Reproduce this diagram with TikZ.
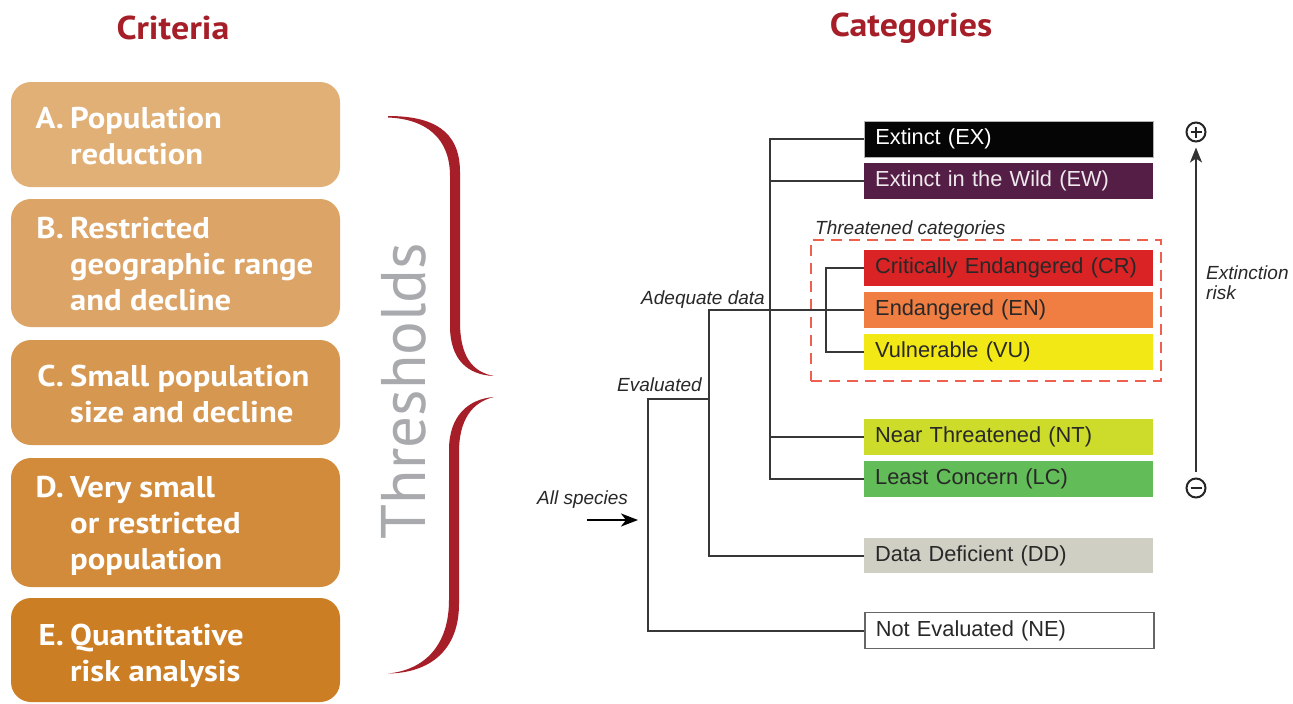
\documentclass[tikz,border=0pt]{standalone}
\usepackage{fontspec}
\setmainfont{PT Sans}[FakeStretch=1.09]
\newfontfamily\thfont{PT Sans}
\newfontfamily\arialf{Liberation Sans}
\usetikzlibrary{arrows.meta}
\definecolor{titlered}{RGB}{165,30,40}
\definecolor{cA}{RGB}{224,176,119}
\definecolor{cB}{RGB}{220,164,103}
\definecolor{cC}{RGB}{214,151,81}
\definecolor{cD}{RGB}{209,139,59}
\definecolor{cE}{RGB}{204,126,37}
\definecolor{thgray}{RGB}{168,170,173}
\definecolor{linegray}{RGB}{55,55,55}
\definecolor{labgray}{RGB}{40,40,40}
\definecolor{exblack}{RGB}{5,5,5}
\definecolor{ewpurple}{RGB}{84,30,70}
\definecolor{crred}{RGB}{217,35,36}
\definecolor{enorange}{RGB}{240,126,66}
\definecolor{vuyellow}{RGB}{242,232,22}
\definecolor{ntgreen}{RGB}{205,220,42}
\definecolor{lcgreen}{RGB}{98,188,88}
\definecolor{ddgray}{RGB}{207,207,196}
\definecolor{dashred}{RGB}{240,96,78}
\tikzset{
  title/.style={text=titlered, font=\fontsize{33}{38}\selectfont\bfseries},
  crit/.style={rounded corners=20pt, minimum width=329pt, inner sep=0pt},
  lett/.style={anchor=base east, text=white, inner sep=0pt, font=\fontsize{30}{36}\selectfont\bfseries},
  ctext/.style={anchor=base west, text=white, inner sep=0pt, font=\fontsize{30}{36}\selectfont\bfseries},
  cat/.style={anchor=west, minimum width=289pt, minimum height=36pt, text width=267pt,
    inner xsep=11pt, inner ysep=0pt, align=left, text=labgray, font=\arialf\fontsize{21.8}{25}\selectfont},
  conn/.style={draw=linegray, line width=2pt},
  lab/.style={anchor=base west, inner sep=0pt, text=labgray, font=\arialf\itshape\fontsize{19}{21}\selectfont},
  sym/.style={circle, draw=black!85, line width=2pt, minimum size=19pt, inner sep=0pt}
}
\begin{document}
\begin{tikzpicture}[x=1pt,y=-1pt]
\useasboundingbox[fill=white] (0,0) rectangle (1293,704);

% titles
\node[title] (crit) at (173,28) {Criteria};
\node[title] (cats) at (911,28) {Categories};

% criteria boxes
\node[crit, fill=cA, minimum height=105pt] (bA) at (175.5,134.5) {};
\node[crit, fill=cB, minimum height=128pt] (bB) at (175.5,263) {};
\node[crit, fill=cC, minimum height=105pt] (bC) at (175.5,392.5) {};
\node[crit, fill=cD, minimum height=129pt] (bD) at (175.5,522.5) {};
\node[crit, fill=cE, minimum height=104pt] (bE) at (175.5,650) {};

\node[lett] (lA) at (64,128) {A.};
\node[ctext] (tA) at (70,128) {\begin{tabular}[t]{@{}l@{}}Population\\reduction\end{tabular}};
\node[lett] (lB) at (64,238) {B.};
\node[ctext] (tB) at (70,238) {\begin{tabular}[t]{@{}l@{}}Restricted\\geographic range\\and decline\end{tabular}};
\node[lett] (lC) at (64,386) {C.};
\node[ctext] (tC) at (70,386) {\begin{tabular}[t]{@{}l@{}}Small population\\size and decline\end{tabular}};
\node[lett] (lD) at (64,497) {D.};
\node[ctext] (tD) at (70,497) {\begin{tabular}[t]{@{}l@{}}Very small\\or restricted\\population\end{tabular}};
\node[lett] (lE) at (64,645) {E.};
\node[ctext] (tE) at (70,645) {\begin{tabular}[t]{@{}l@{}}Quantitative\\risk analysis\end{tabular}};

% Thresholds
\node[rotate=90, text=thgray, inner sep=0pt, font=\thfont\fontsize{63}{70}\selectfont] (thr) at (404,391) {Thresholds};

% brace
\fill[titlered] (388,116) .. controls (432,116) and (460,130) .. (460,172) -- (460,322)
  .. controls (460,356) and (472,372) .. (494,376)
  .. controls (468,375) and (450,360) .. (450,326) -- (450,176)
  .. controls (450,138) and (426,119) .. (388,117.5) -- cycle;
\fill[titlered] (494,397) .. controls (468,399) and (449,416) .. (449,450) -- (449,600)
  .. controls (449,646) and (424,670) .. (388,673.5)
  .. controls (430,673) and (459,650) .. (459,604) -- (459,452)
  .. controls (459,420) and (472,402) .. (494,397) -- cycle;

% category boxes
\node[cat, fill=exblack, text=white, draw=gray!60, line width=0.6pt] (ex) at (864,139) {Extinct (EX)};
\node[cat, fill=ewpurple, text=white!90!ewpurple] (ew) at (864,180.5) {Extinct in the Wild (EW)};
\node[cat, fill=crred] (cr) at (864,267.5) {Critically Endangered (CR)};
\node[cat, fill=enorange] (en) at (864,310) {Endangered (EN)};
\node[cat, fill=vuyellow] (vu) at (864,351.5) {Vulnerable (VU)};
\node[cat, fill=ntgreen] (nt) at (864,436.5) {Near Threatened (NT)};
\node[cat, fill=lcgreen] (lc) at (864,478.5) {Least Concern (LC)};
\node[cat, fill=ddgray, minimum height=35pt] (dd) at (864,555.5) {Data Deficient (DD)};
\node[cat, fill=white, draw=gray!80!black, line width=1.5pt] (ne) at (864,630.5) {Not Evaluated (NE)};

% threatened dashed frame
\node[draw=dashred, line width=2pt, dash pattern=on 11pt off 7pt, minimum width=350pt, minimum height=141pt, inner sep=0pt] (thframe) at (986,310.5) {};
\node[lab] (thlab) at (815,234) {Threatened categories};

% tree connectors
\coordinate (trA) at (770,310);
\coordinate (trT) at (826,310);
\coordinate (adq) at (709,310);
\coordinate (evr) at (709,399);
\coordinate (evl) at (648,399);
\draw[conn] (ex.west) -| (trA) |- (lc.west);
\draw[conn] (ew.west) -| (trA);
\draw[conn] (nt.west) -| (trA);
\draw[conn] (cr.west) -| (trT) |- (vu.west);
\draw[conn] (en.west) -- (adq) |- (dd.west);
\draw[conn] (evr) -- (evl) |- (ne.west);

% labels
\node[lab] (adl) at (641,304) {Adequate data};
\node[lab] (evlab) at (617,391) {Evaluated};
\node[lab] (alll) at (537,504) {All species};
\coordinate (as1) at (587,520);
\coordinate (as2) at (638,520);
\draw[conn, draw=black, -{Stealth[length=17pt,width=13pt,inset=5pt]}] (as1) -- (as2);

% extinction risk axis
\node[sym] (plus) at (1196,132) {};
\node[sym] (minus) at (1196,488) {};
\draw[line width=2pt, black!85] ([xshift=-5.5pt]plus.center) -- ([xshift=5.5pt]plus.center);
\draw[line width=2pt, black!85] ([yshift=-5.5pt]plus.center) -- ([yshift=5.5pt]plus.center);
\draw[line width=2pt, black!85] ([xshift=-5.5pt]minus.center) -- ([xshift=5.5pt]minus.center);
\draw[conn, draw=black!80, -{Stealth[length=15pt,width=12pt,inset=4pt]}, shorten <=6pt, shorten >=5pt] (minus) -- (plus);
\node[lab] (er1) at (1206,279) {Extinction};
\node[lab] (er2) at (1206,299) {risk};
\end{tikzpicture}
\end{document}
